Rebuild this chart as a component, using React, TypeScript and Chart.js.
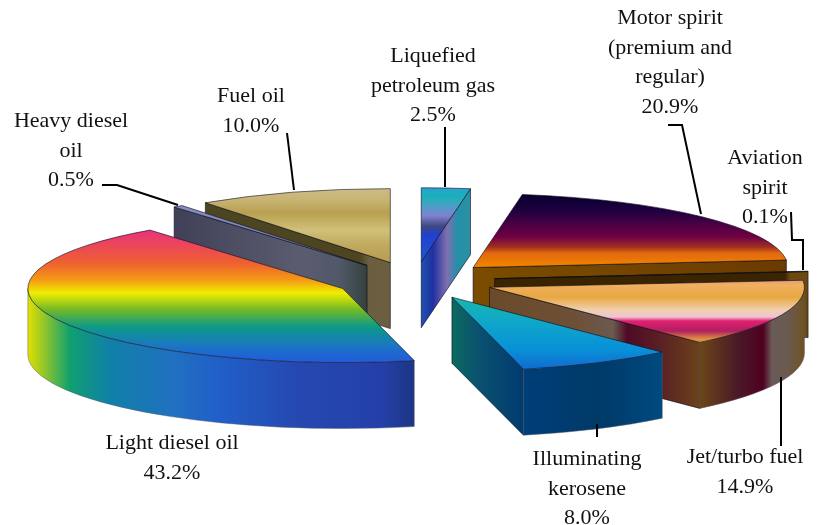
import React, { useEffect, useRef } from "react";
import { Chart, registerables } from "chart.js";

Chart.register(...registerables);

const categories = [
  "Liquefied petroleum gas",
  "Motor spirit (premium and regular)",
  "Aviation spirit",
  "Jet/turbo fuel",
  "Illuminating kerosene",
  "Light diesel oil",
  "Heavy diesel oil",
  "Fuel oil",
];
const shares = [2.5, 20.9, 0.1, 14.9, 8.0, 43.2, 0.5, 10.0];

type Stops = [number, string][];

// Styling of each slice, by category index: gradient stops in canvas pixels.
const topStops: Stops[] = [
  [[187, "#2f9fd8"], [196, "#18b0b8"], [206, "#4aa0c8"], [216, "#8080d0"], [226, "#404880"], [235, "#2040d0"], [262, "#2058d0"]],
  [[190, "#000028"], [210, "#1e0040"], [237, "#700045"], [247, "#a03020"], [253, "#e06810"], [264, "#f08000"]],
  [[268, "#6b4a10"], [280, "#3a2500"]],
  [[278, "#e89090"], [285, "#f0b060"], [297, "#e8a840"], [310, "#f0d0b0"], [317, "#f0c4d0"], [321, "#e02070"], [331, "#b02060"], [339, "#e09040"]],
  [[295, "#18b8a8"], [320, "#10a8c8"], [350, "#0890d8"], [366, "#1070d0"]],
  [[229, "#e8307f"], [263, "#ee6030"], [280, "#f59a15"], [293, "#eeee00"], [310, "#70b828"], [327, "#0c9a88"], [345, "#1a78c0"], [358, "#2060d8"]],
  [[204, "#8890c0"], [262, "#7078a8"]],
  [[187, "#cdbe85"], [200, "#c8b474"], [213, "#b8a050"], [230, "#d0c078"], [245, "#c0aa60"], [259, "#b8a050"]],
];
const faceStops: Stops[] = [
  [[422, "#1e50b0"], [433, "#2030a0"], [447, "#8070b0"], [458, "#2090a8"], [472, "#3090a0"]],
  [[472, "#7a4c00"], [620, "#744600"], [787, "#6a3a00"]],
  [[495, "#3a2500"], [785, "#3a2500"], [790, "#6b4a10"], [810, "#6b4a10"]],
  [[488, "#6a4a28"], [577, "#6e5038"], [613, "#6a5a50"], [627, "#500a25"], [660, "#5a2025"], [702, "#6c4418"]],
  [[453, "#0a6a60"], [480, "#0a5070"], [525, "#003a70"]],
  [[28, "#000"], [417, "#000"]],
  [[176, "#404058"], [300, "#5c5c70"], [340, "#505868"], [368, "#34403c"]],
  [[207, "#4d4420"], [360, "#4d4420"], [369, "#6b5f40"], [392, "#6b5f40"]],
];
const sideStops: Stops[] = [
  [[0, "#000"], [818, "#000"]],
  [[0, "#000"], [818, "#000"]],
  [[0, "#000"], [818, "#000"]],
  [[702, "#6a4418"], [737, "#4a1a28"], [763, "#500020"], [772, "#6a5a58"], [787, "#6a5a50"], [807, "#70501c"]],
  [[525, "#003e78"], [600, "#003a68"], [662, "#004a80"]],
  [[28, "#e0e000"], [40, "#a8cc20"], [70, "#10a070"], [110, "#1080a8"], [173, "#2070c0"], [217, "#2060c8"], [300, "#2548b0"], [383, "#2440a8"], [417, "#1c3480"]],
  [[0, "#000"], [818, "#000"]],
  [[0, "#000"], [818, "#000"]],
];
const paintOrder = [7, 1, 2, 0, 6, 3, 5, 4];

const labels: { lines: string[]; x: number; y: number }[] = [
  { lines: ["Motor spirit", "(premium and", "regular)", "20.9%"], x: 670, y: 24 },
  { lines: ["Liquefied", "petroleum gas", "2.5%"], x: 433, y: 62 },
  { lines: ["Aviation", "spirit", "0.1%"], x: 765, y: 164 },
  { lines: ["Fuel oil", "10.0%"], x: 251, y: 102 },
  { lines: ["Heavy diesel", "oil", "0.5%"], x: 71, y: 127 },
  { lines: ["Light diesel oil", "43.2%"], x: 172, y: 449 },
  { lines: ["Illuminating", "kerosene", "8.0%"], x: 587, y: 465 },
  { lines: ["Jet/turbo fuel", "14.9%"], x: 745, y: 463 },
];
const leaders: [number, number][][] = [
  [[668, 125], [682, 125], [701, 214]],
  [[791, 212], [792, 240], [803, 240], [803, 270]],
  [[445, 127], [445, 187]],
  [[287, 133], [294, 190]],
  [[102, 185], [117, 185], [178, 205]],
  [[597, 424], [597, 437]],
  [[781, 377], [781, 446]],
];

const STRETCH_X = 1.288;
const TILT = 74 / 315;
const EXPLODE = 80;
const DEPTH = 66;
const FONT = '22px "Liberation Serif"';
const LINE = 29.6;

function gradient(ctx: CanvasRenderingContext2D, stops: Stops, vertical: boolean) {
  const a = stops[0][0];
  const b = stops[stops.length - 1][0];
  const g = vertical ? ctx.createLinearGradient(0, a, 0, b) : ctx.createLinearGradient(a, 0, b, 0);
  stops.forEach(([p, c]) => g.addColorStop((p - a) / (b - a), c));
  return g;
}

const pie3d = {
  id: "pie3d",
  beforeDatasetsDraw(chart: any) {
    const ctx: CanvasRenderingContext2D = chart.ctx;
    const arcs = chart.getDatasetMeta(0).data;
    ctx.save();
    ctx.lineWidth = 0.8;
    ctx.lineJoin = "round";
    ctx.strokeStyle = "rgba(10,10,30,0.75)";
    for (const i of paintOrder) {
      const arc = arcs[i];
      const a0: number = arc.startAngle;
      const a1: number = arc.endAngle;
      const mid = (a0 + a1) / 2;
      const rx = arc.outerRadius * STRETCH_X;
      const ry = rx * TILT;
      const cx = arc.x + EXPLODE * Math.cos(mid);
      const cy = arc.y + EXPLODE * TILT * Math.sin(mid);
      const rim = (a: number): [number, number] => [cx + rx * Math.cos(a), cy + ry * Math.sin(a)];

      const face = (a: number) => {
        const [px, py] = rim(a);
        ctx.beginPath();
        ctx.moveTo(cx, cy);
        ctx.lineTo(px, py);
        ctx.lineTo(px, py + DEPTH);
        ctx.lineTo(cx, cy + DEPTH);
        ctx.closePath();
        ctx.fillStyle = gradient(ctx, faceStops[i], false);
        ctx.fill();
        ctx.stroke();
      };
      // A cut face shows when it turns towards the viewer.
      if (Math.cos(a0) < -1e-6) face(a0);
      if (Math.cos(a1) > 1e-6) face(a1);

      // Curved wall: only the front half of the rim.
      const lo = Math.max(a0, 0);
      const hi = Math.min(a1, Math.PI);
      if (hi > lo) {
        ctx.beginPath();
        ctx.ellipse(cx, cy, rx, ry, 0, lo, hi);
        ctx.ellipse(cx, cy + DEPTH, rx, ry, 0, hi, lo, true);
        ctx.closePath();
        ctx.fillStyle = gradient(ctx, sideStops[i], false);
        ctx.fill();
        ctx.strokeStyle = "rgba(90,90,100,0.6)";
        ctx.stroke();
        ctx.strokeStyle = "rgba(10,10,30,0.75)";
      }

      // Top surface.
      ctx.beginPath();
      ctx.moveTo(cx, cy);
      ctx.ellipse(cx, cy, rx, ry, 0, a0, a1);
      ctx.closePath();
      ctx.fillStyle = gradient(ctx, topStops[i], true);
      ctx.fill();
      ctx.stroke();
    }

    ctx.strokeStyle = "#000";
    ctx.lineWidth = 2;
    ctx.lineJoin = "miter";
    for (const path of leaders) {
      ctx.beginPath();
      path.forEach(([x, y], k) => (k ? ctx.lineTo(x, y) : ctx.moveTo(x, y)));
      ctx.stroke();
    }

    ctx.fillStyle = "#111";
    ctx.font = FONT;
    ctx.textAlign = "center";
    ctx.textBaseline = "alphabetic";
    for (const l of labels) {
      l.lines.forEach((t, k) => ctx.fillText(t, l.x, l.y + k * LINE));
    }
    ctx.restore();
    return false;
  },
};

export default function App() {
  const ref = useRef<HTMLCanvasElement>(null);
  useEffect(() => {
    document.body.style.margin = "0";
    const chart = new Chart(ref.current!, {
      type: "pie",
      data: {
        labels: categories,
        datasets: [{ data: shares, borderWidth: 0 }],
      },
      options: {
        animation: false,
        responsive: false,
        rotation: 0,
        layout: { padding: { left: 12, top: 36 } },
        plugins: { legend: { display: false }, tooltip: { enabled: false } },
      },
      plugins: [pie3d as any],
    });
    return () => chart.destroy();
  }, []);
  return <canvas ref={ref} width={818} height={525} style={{ display: "block", width: 818, height: 525 }} />;
}
